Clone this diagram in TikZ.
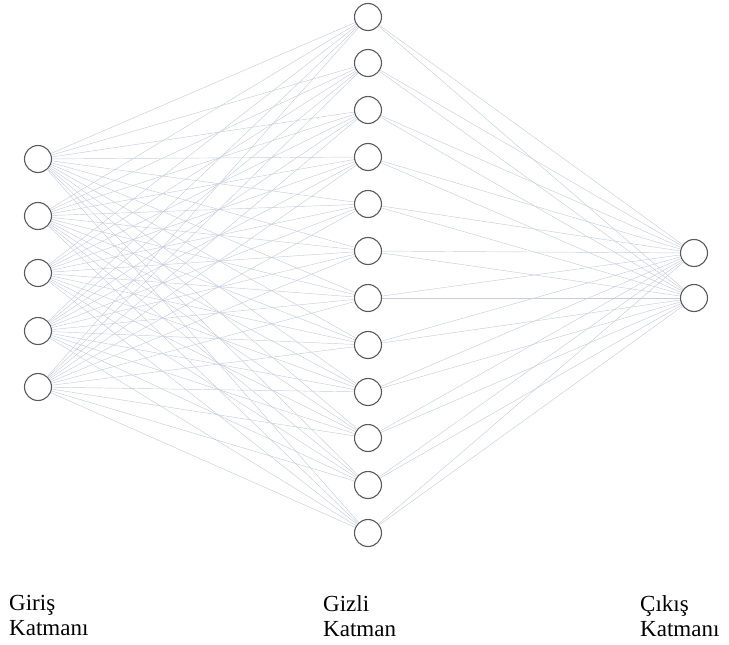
\documentclass[tikz,border=0pt]{standalone}
\usepackage{fontspec}
\setmainfont{Liberation Serif}
\begin{document}
\begin{tikzpicture}[x=1pt,y=-1pt,
  neuron/.style={circle,draw=black!65,line width=1.1pt,fill=white,minimum size=27pt,inner sep=0pt},
  edge/.style={draw={rgb,255:red,200;green,204;blue,222},line width=0.45pt},
  lbl/.style={anchor=north west,align=left,font=\fontsize{23}{25}\selectfont,inner sep=0pt}]
\useasboundingbox (0,0) rectangle (729,645);
% input layer
\foreach \i/\y in {1/159,2/216,3/273,4/331,5/387}
  \node[neuron] (i\i) at (38,\y) {};
% hidden layer
\foreach \j/\y in {1/17,2/63,3/110,4/157,5/204,6/251,7/298,8/345,9/392,10/438,11/485,12/533}
  \node[neuron] (h\j) at (368,\y) {};
% output layer
\foreach \k/\y in {1/253,2/298}
  \node[neuron] (o\k) at (694,\y) {};
% connections
\foreach \i in {1,...,5}
  \foreach \j in {1,...,12}
    \draw[edge] (i\i) -- (h\j);
\foreach \j in {1,...,12}
  \foreach \k in {1,2}
    \draw[edge] (h\j) -- (o\k);
% labels
\node[lbl] (l1) at (9,595) {Giriş\\Katmanı};
\node[lbl] (l2) at (323,595) {Gizli\\Katman};
\node[lbl] (l3) at (640,595) {Çıkış\\Katmanı};
\end{tikzpicture}
\end{document}
